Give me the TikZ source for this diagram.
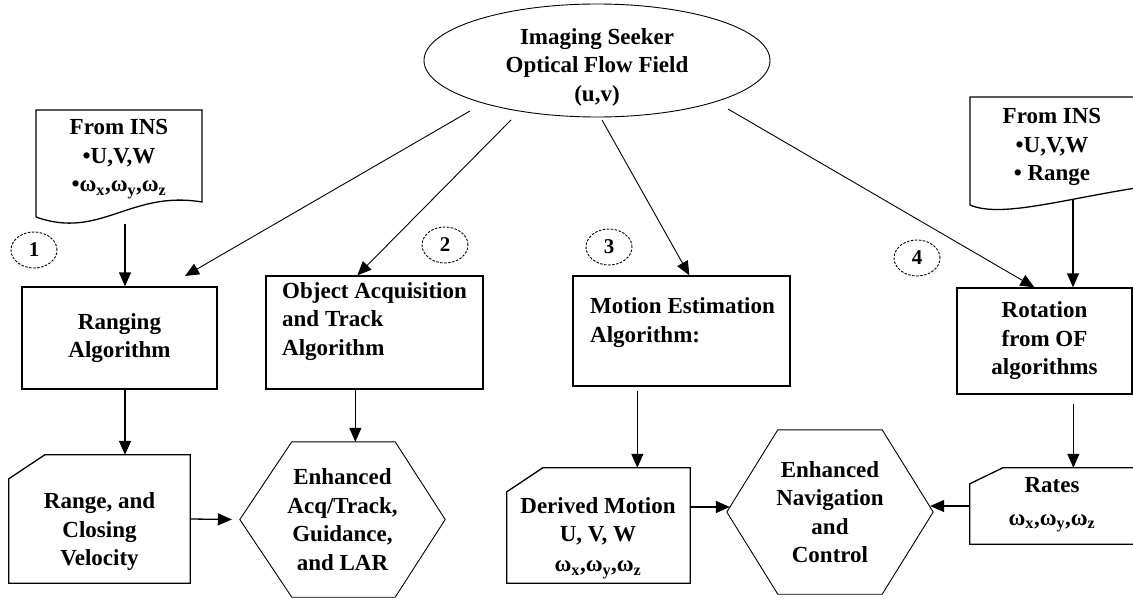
\documentclass[tikz,border=0pt]{standalone}
\usepackage{fontspec}
\setmainfont{Liberation Serif}
\usetikzlibrary{shapes.geometric,arrows.meta}
\begin{document}
\begin{tikzpicture}[x=1pt,y=-1pt,
  txt/.style={font=\fontsize{23}{28.5}\selectfont\bfseries, align=center, inner sep=0pt},
  box/.style={draw, line width=1.3pt, inner sep=0pt},
  outl/.style={line width=1.3pt},
  thinl/.style={line width=0.9pt},
  arr/.style={-{Triangle[length=14pt,width=12pt]}, line width=1.3pt},
  num/.style={draw, ellipse, dash pattern=on 2.5pt off 1.5pt, line width=0.9pt,
    minimum width=46pt, minimum height=36pt, inner sep=0pt,
    font=\fontsize{21}{24}\selectfont\bfseries}]
\useasboundingbox (0,0) rectangle (1133,599);
\clip (0,0) rectangle (1133,599);

% top ellipse
\node[draw, ellipse, thinl, minimum width=346pt, minimum height=113pt, inner sep=0pt] (ell) at (597,60.5) {};
\node[txt] (ellt) at (597,67) {Imaging Seeker\\Optical Flow Field\\(u,v)};

% left document
\draw[outl] (36,217) -- (36,110) -- (202,110) -- (202,202)
  .. controls (130,190) and (100,240) .. (36,217);
\node[txt] (insL) at (119,159) {From INS\\\textbullet U,V,W\\\textbullet ω\textsubscript{x},ω\textsubscript{y},ω\textsubscript{z}};

% right document
\draw[outl] (970,205) -- (970,97) -- (1136,97) -- (1136,188)
  .. controls (1060,200) and (1000,218) .. (970,205);
\node[txt] (insR) at (1052,147) {From INS\\\textbullet U,V,W\\\textbullet\ Range};

% numbered circles
\node[num] (c1) at (34,250) {1};
\node[num] (c2) at (445,245) {2};
\node[num] (c3) at (609,247) {3};
\node[num] (c4) at (917,258) {4};

% algorithm boxes
\node[box, txt, minimum width=195pt, minimum height=102pt] (rng) at (119.5,338) {Ranging\\Algorithm};
\node[box, minimum width=217pt, minimum height=113pt] (obj) at (374.5,332.5) {};
\node[txt, align=left, anchor=west] (objt) at (282,321.5) {Object Acquisition\\and Track\\Algorithm};
\node[box, minimum width=217pt, minimum height=110pt] (mot) at (681.5,331) {};
\node[txt, align=left, anchor=west] (mott) at (590,322.5) {Motion Estimation\\Algorithm:};
\node[box, txt, minimum width=175pt, minimum height=106pt] (rot) at (1044.5,341) {Rotation\\from OF\\algorithms};

% bottom cards
\node[minimum width=181pt, minimum height=128pt, inner sep=0pt] (rcard) at (99.5,519) {};
\draw[outl] ([yshift=-24pt]rcard.north west) -- ([xshift=36pt]rcard.north west) -- (rcard.north east)
  -- (rcard.south east) -- (rcard.south west) -- cycle;
\node[txt] (rcardt) at (99.5,531.5) {Range, and\\Closing\\Velocity};

\node[minimum width=183pt, minimum height=115pt, inner sep=0pt] (dcard) at (598.5,525.5) {};
\draw[outl] ([yshift=-24pt]dcard.north west) -- ([xshift=36pt]dcard.north west) -- (dcard.north east)
  -- (dcard.south east) -- (dcard.south west) -- cycle;
\node[txt] (dcardt) at (598,538) {Derived Motion\\U, V, W\\[1pt]ω\textsubscript{x},ω\textsubscript{y},ω\textsubscript{z}};

\node[minimum width=170pt, minimum height=76pt, inner sep=0pt] (rates) at (1055,506) {};
\draw[outl] ([yshift=-16pt]rates.north west) -- ([xshift=33pt]rates.north west) -- (rates.north east)
  -- (rates.south east) -- (rates.south west) -- cycle;
\node[txt] (ratest) at (1052,505) {Rates\\[4pt]ω\textsubscript{x},ω\textsubscript{y},ω\textsubscript{z}};

% hexagons
\node[txt, minimum width=205pt, minimum height=155pt] (hex1) at (342.5,519.5) {Enhanced\\Acq/Track,\\Guidance,\\and LAR};
\draw[thinl] (hex1.west) -- ([xshift=52pt]hex1.north west) -- ([xshift=-50pt]hex1.north east) -- (hex1.east)
  -- ([xshift=-50pt]hex1.south east) -- ([xshift=52pt]hex1.south west) -- cycle;
\node[txt, minimum width=206pt, minimum height=164pt] (hex2) at (830,512) {Enhanced\\Navigation\\and\\Control};
\draw[thinl] (hex2.west) -- ([xshift=51pt]hex2.north west) -- ([xshift=-51pt]hex2.north east) -- (hex2.east)
  -- ([xshift=-51pt]hex2.south east) -- ([xshift=51pt]hex2.south west) -- cycle;

% connectors
\coordinate (a1s) at (125,224);
\draw[arr] (a1s) -- (a1s |- rng.north);
\coordinate (s1) at (470,111);
\coordinate (e1) at (185,276);
\draw[thinl, -{Triangle[length=14pt,width=12pt]}] (s1) -- (e1);
\coordinate (s2) at (511,120);
\draw[thinl, -{Triangle[length=14pt,width=12pt]}] (s2) -- ([xshift=92pt]obj.north west);
\coordinate (s3) at (602,120);
\draw[thinl, -{Triangle[length=14pt,width=12pt]}] (s3) -- ([xshift=117pt]mot.north west);
\coordinate (s4) at (728,109);
\draw[thinl, -{Triangle[length=14pt,width=12pt]}] (s4) -- ([xshift=78pt]rot.north west);
\coordinate (a6s) at (1073,200);
\draw[arr] (a6s) -- (a6s |- rot.north);

\draw[arr] (rng.south -| a1s) -- (rcard.north -| a1s);
\draw[arr] ([xshift=90pt]obj.south west) -- ([xshift=90pt]obj.south west |- hex1.north);
\draw[arr] ([xshift=65pt,yshift=-4pt]mot.south west) -- ([xshift=65pt]mot.south west |- dcard.north);
\draw[arr] ([xshift=117pt,yshift=-9pt]rot.south west) -- ([xshift=117pt]rot.south west |- rates.north);
\draw[arr] (rcard.east) -- ([xshift=-8pt]hex1.west);
\draw[arr] ([yshift=18.5pt]dcard.east) -- ([xshift=3pt,yshift=5pt]hex2.west);
\draw[arr] (rates.west) -- ([xshift=-3pt,yshift=6pt]hex2.east);
\end{tikzpicture}
\end{document}
